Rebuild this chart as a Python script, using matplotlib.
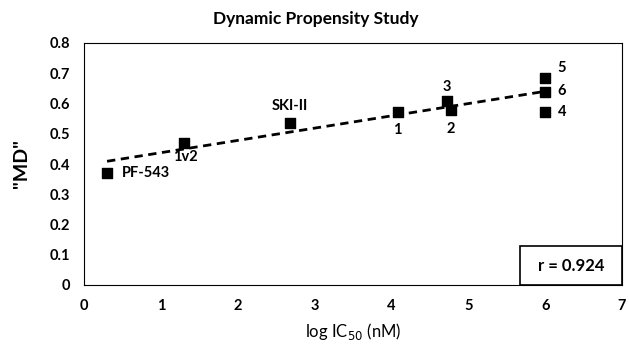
import numpy as np
import matplotlib.pyplot as plt
from matplotlib.patches import Rectangle

# data
names = ["PF-543", "1v2", "SKI-II", "1", "3", "2", "5", "6", "4"]
log_ic50 = [0.3, 1.3, 2.68, 4.08, 4.72, 4.77, 6.0, 6.0, 6.0]
md = [0.37, 0.47, 0.535, 0.572, 0.607, 0.579, 0.684, 0.637, 0.572]
r_text = "r = 0.924"

# label offsets (points) and alignment per compound
offsets = {
    "PF-543": ((11, 0), "left", "center"),
    "1v2": ((1, -10), "center", "center"),
    "SKI-II": ((0, 12), "center", "center"),
    "1": ((0, -13), "center", "center"),
    "2": ((0, -14), "center", "center"),
    "3": ((0, 10), "center", "center"),
    "5": ((9, 7), "left", "center"),
    "6": ((9, 1), "left", "center"),
    "4": ((9, 0), "left", "center"),
}

plt.rcParams['font.family'] = ['Lato', 'DejaVu Sans']

fig = plt.figure(figsize=(6.29, 3.45), dpi=100)
ax = fig.add_axes([84 / 629, 60 / 345, 538 / 629, 242 / 345])

ax.scatter(log_ic50, md, marker='s', s=55, color='black', zorder=3)

# linear trendline
k, b = np.polyfit(log_ic50, md, 1)
xt = np.array([min(log_ic50), max(log_ic50)])
ax.plot(xt, k * xt + b, color='black', lw=2, ls=(0, (3, 2)), zorder=2)

for n, x, y in zip(names, log_ic50, md):
    off, ha, va = offsets[n]
    ax.annotate(n, (x, y), xytext=off, textcoords='offset points',
                ha=ha, va=va, fontsize=10.5, fontweight='bold')

ax.set_xlim(0, 7)
ax.set_ylim(0, 0.8)
ax.set_xticks(range(8))
ax.set_yticks(np.arange(0, 0.81, 0.1))
ax.set_yticklabels(['0'] + ['%.1f' % v for v in np.arange(0.1, 0.81, 0.1)])
ax.tick_params(length=0, labelsize=10.5, pad=10)
for lab in ax.get_xticklabels() + ax.get_yticklabels():
    lab.set_fontweight('bold')
for s in ax.spines.values():
    s.set_linewidth(0.8)

ax.set_xlabel("log IC$_{50}$ (nM)", fontsize=12, labelpad=6)
ax.set_ylabel('"MD"', fontsize=14, fontweight='bold', labelpad=14)
ax.set_title("Dynamic Propensity Study", fontsize=12.5, fontweight='bold',
             pad=14, x=0.43)

ax.add_patch(Rectangle((0.81, 0), 0.19, 0.161, transform=ax.transAxes,
                       fill=False, lw=1.2, ec='black', clip_on=False))
ax.text(0.905, 0.08, r_text, transform=ax.transAxes, ha='center', va='center',
        fontsize=12, fontweight='bold')

fig.savefig("out.png", dpi=100)
